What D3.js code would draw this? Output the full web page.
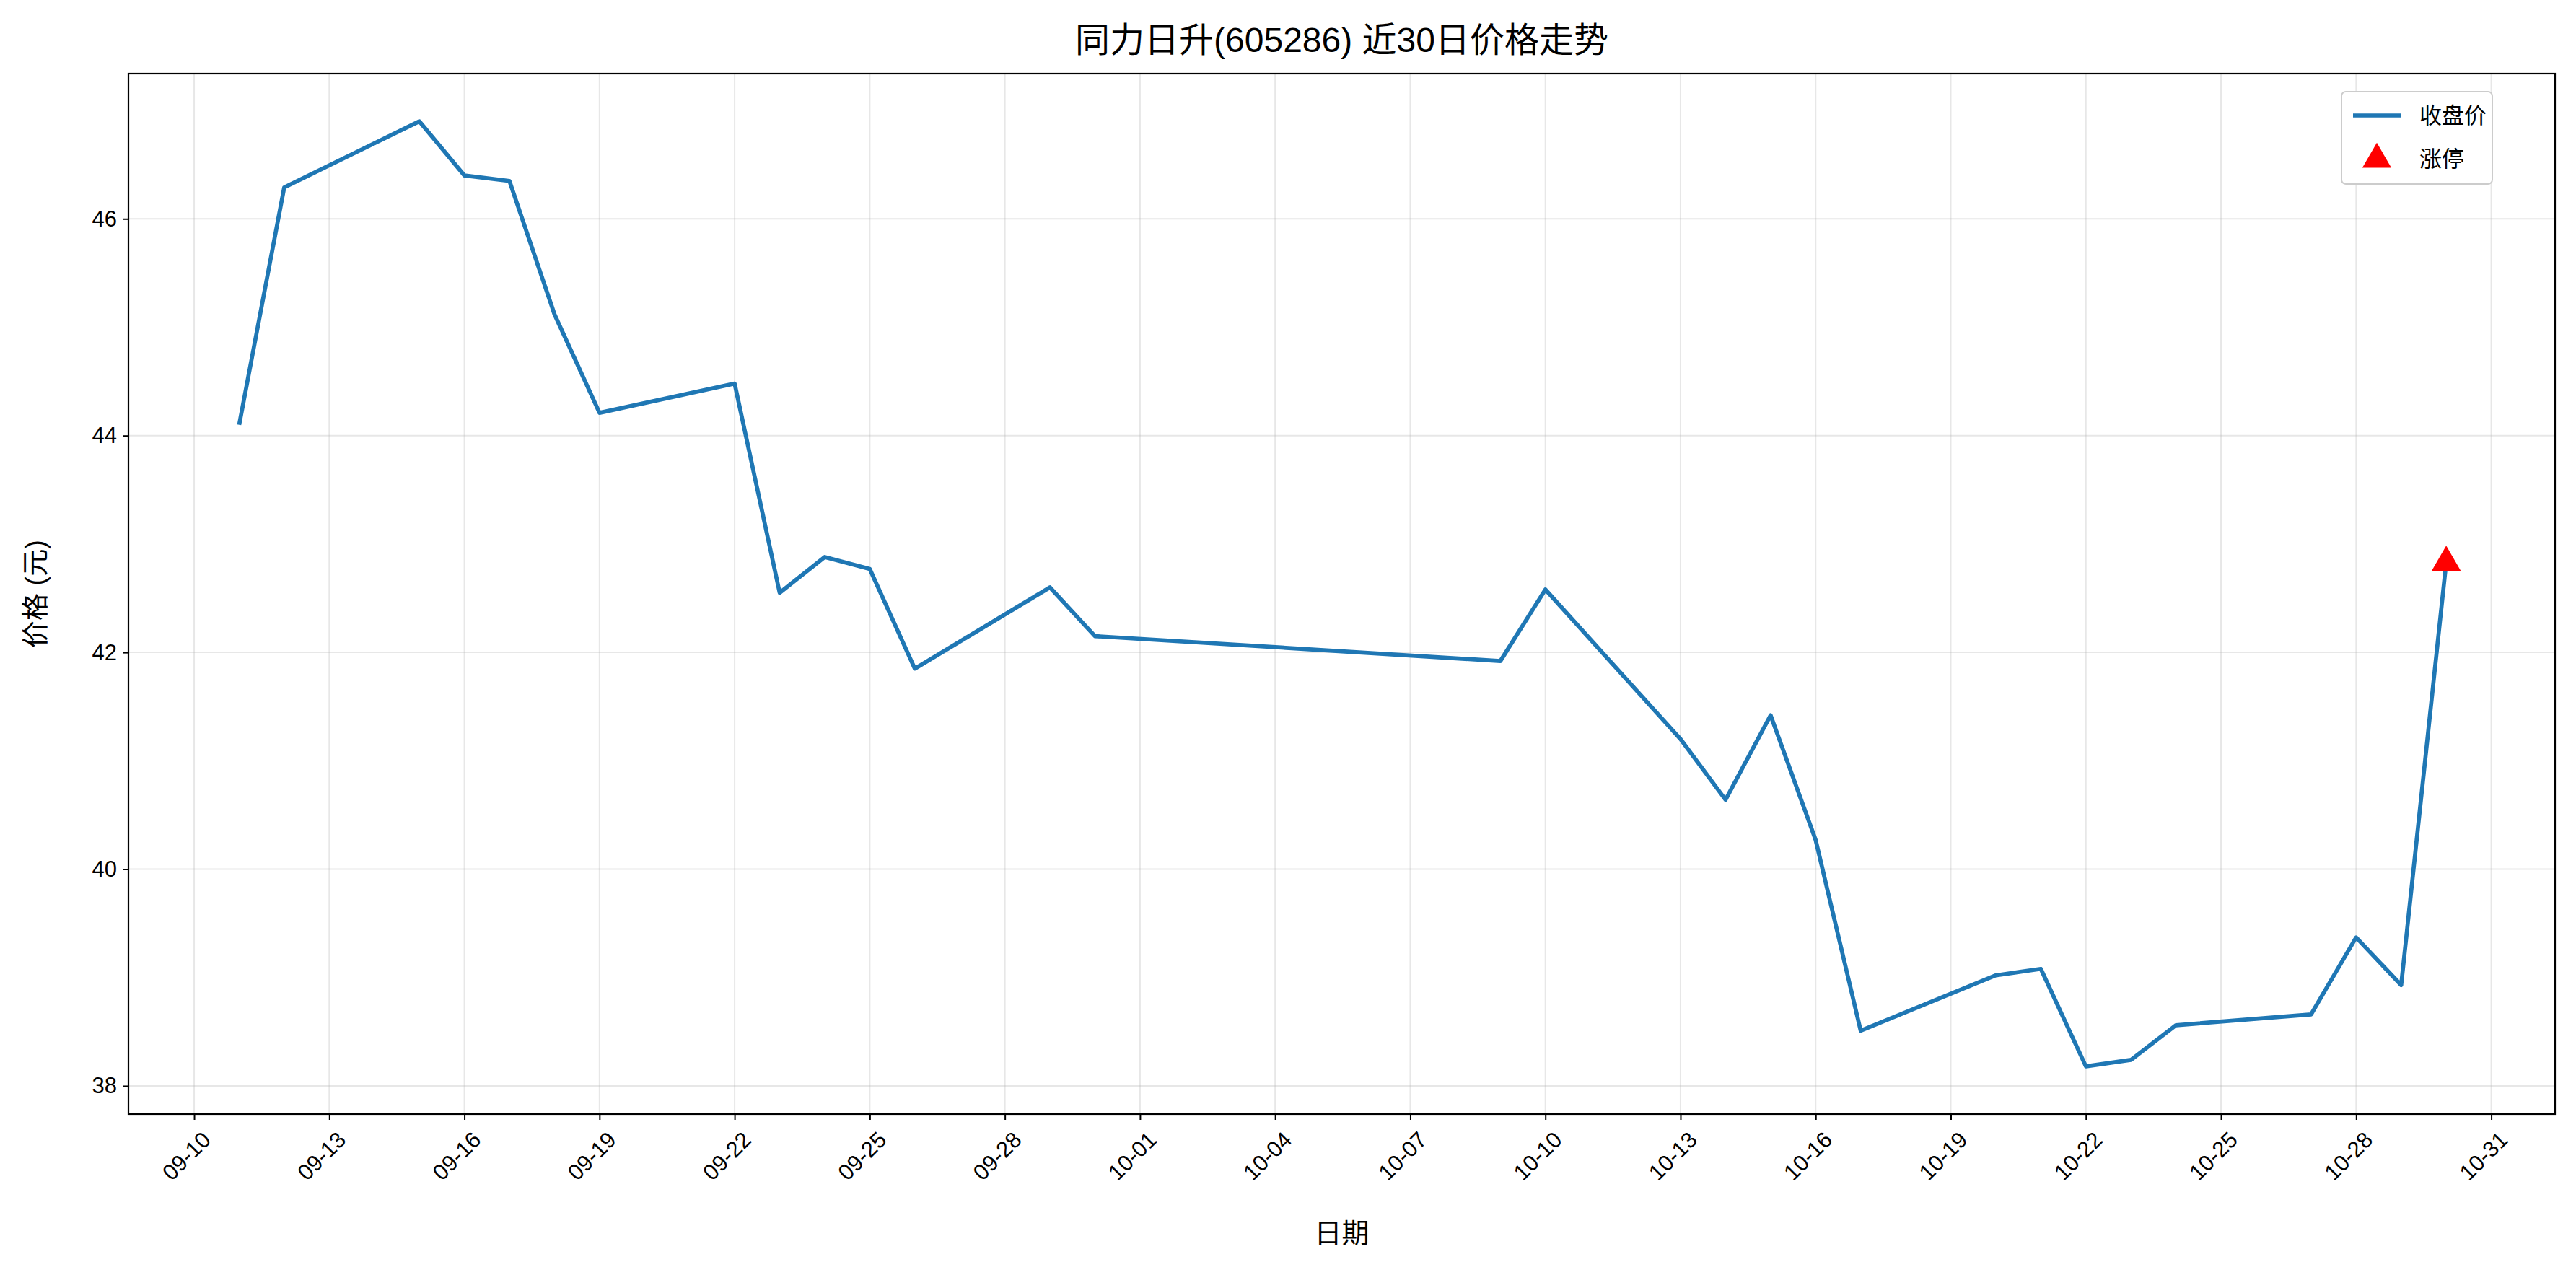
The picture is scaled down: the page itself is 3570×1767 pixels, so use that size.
<!DOCTYPE html>
<html><head><meta charset="utf-8">
<script src="https://cdn.jsdelivr.net/npm/d3@7"></script>
<style>body{margin:0;background:#fff}text{font-family:"Liberation Sans","Noto Sans CJK SC",sans-serif}</style>
</head><body><svg id="c" width="3570" height="1767"></svg>
<script>
var dates = ["09-11","09-12","09-15","09-16","09-17","09-18","09-19","09-22","09-23","09-24","09-25","09-26","09-29","09-30","10-09","10-10","10-13","10-14","10-15","10-16","10-17","10-20","10-21","10-22","10-23","10-24","10-27","10-28","10-29","10-30"];
var closes = [44.10,46.29,46.90,46.40,46.35,45.12,44.21,44.48,42.55,42.88,42.77,41.85,42.60,42.15,41.92,42.58,41.20,40.64,41.42,40.27,38.51,39.02,39.08,38.18,38.24,38.56,38.66,39.37,38.93,42.83];
var limitUp = [{date:"10-30", price:42.83}];
var yTicks = [38,40,42,44,46];

var parse = function(s){ return d3.timeParse("%Y-%m-%d")("2025-" + s); };
var svg = d3.select("#c");
var L = 178, R = 3541, T = 102, B = 1544;

var x = d3.scaleTime().domain([d3.timeHour.offset(parse("09-11"), -2.45*24), d3.timeHour.offset(parse("10-30"), 2.45*24)]).range([L, R]);
var y = d3.scaleLinear().domain([37.74, 47.34]).range([B, T]);
var xTicks = d3.timeDay.range(parse("09-10"), parse("11-01"), 3);

// grid
svg.append("g").selectAll("line").data(xTicks).enter().append("line")
  .attr("x1", d => x(d)).attr("x2", d => x(d)).attr("y1", T).attr("y2", B)
  .attr("stroke", "#b0b0b0").attr("stroke-opacity", 0.3).attr("stroke-width", 2);
svg.append("g").selectAll("line").data(yTicks).enter().append("line")
  .attr("y1", d => y(d)).attr("y2", d => y(d)).attr("x1", L).attr("x2", R)
  .attr("stroke", "#b0b0b0").attr("stroke-opacity", 0.3).attr("stroke-width", 2);

// axes
var xa = svg.append("g").attr("transform", "translate(0," + B + ")")
  .call(d3.axisBottom(x).tickValues(xTicks).tickFormat(d3.timeFormat("%m-%d")).tickSizeOuter(0).tickSize(8).tickPadding(8));
xa.selectAll("text").attr("font-size", 31).attr("fill", "#000")
  .attr("text-anchor", "end").attr("transform", "rotate(-45)").attr("dx", "-0.3em").attr("dy", "0.9em");
var ya = svg.append("g").attr("transform", "translate(" + L + ",0)")
  .call(d3.axisLeft(y).tickValues(yTicks).tickSizeOuter(0).tickSize(8).tickPadding(8));
ya.selectAll("text").attr("font-size", 31).attr("fill", "#000");
svg.selectAll(".domain").remove();
svg.selectAll(".tick line").attr("stroke", "#000").attr("stroke-width", 2);
svg.append("rect").attr("x", L).attr("y", T).attr("width", R - L).attr("height", B - T)
  .attr("fill", "none").attr("stroke", "#000").attr("stroke-width", 2.2);

// line
var pts = dates.map((d, i) => ({d: parse(d), v: closes[i]}));
svg.append("path").datum(pts)
  .attr("d", d3.line().x(p => x(p.d)).y(p => y(p.v)))
  .attr("fill", "none").attr("stroke", "#1f77b4").attr("stroke-width", 5.7).attr("stroke-linejoin", "round");

var tri = d3.symbol().type(d3.symbolTriangle).size(700);
svg.selectAll(".lu").data(limitUp).enter().append("path")
  .attr("transform", d => "translate(" + x(parse(d.date)) + "," + y(d.price) + ")")
  .attr("d", tri).attr("fill", "red");

// labels
svg.append("text").attr("x", (L + R) / 2).attr("y", 72).attr("text-anchor", "middle").attr("font-size", 48).text("同力日升(605286) 近30日价格走势");
svg.append("text").attr("x", (L + R) / 2).attr("y", 1722).attr("text-anchor", "middle").attr("font-size", 38).text("日期");
svg.append("text").attr("transform", "translate(62," + (T + B) / 2 + ") rotate(-90)").attr("text-anchor", "middle").attr("font-size", 38).text("价格 (元)");

// legend
var lg = svg.append("g").attr("transform", "translate(3245,127)");
lg.append("rect").attr("width", 209).attr("height", 128).attr("rx", 6).attr("fill", "#fff").attr("stroke", "#ccc").attr("stroke-width", 2);
lg.append("line").attr("x1", 16).attr("x2", 82).attr("y1", 33).attr("y2", 33).attr("stroke", "#1f77b4").attr("stroke-width", 5.7);
lg.append("path").attr("transform", "translate(49,94)").attr("d", tri).attr("fill", "red");
lg.append("text").attr("x", 108).attr("y", 44).attr("font-size", 31).text("收盘价");
lg.append("text").attr("x", 108).attr("y", 104).attr("font-size", 31).text("涨停");
</script></body></html>
